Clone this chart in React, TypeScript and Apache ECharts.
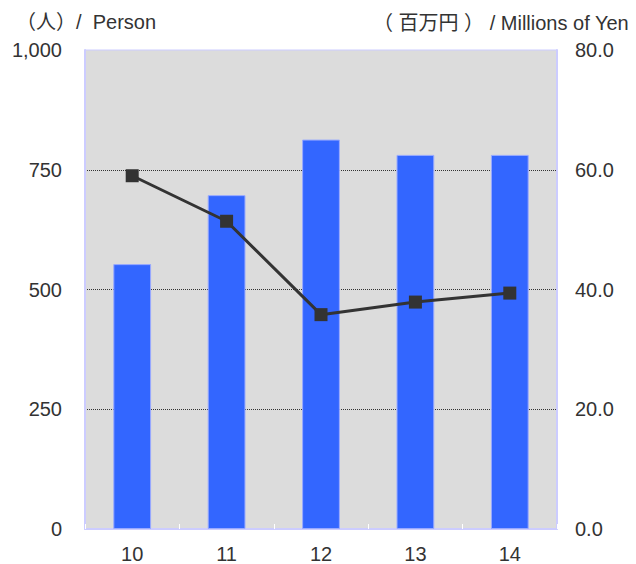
import React, { useEffect, useRef } from "react";
import * as echarts from "echarts";

const categories = ["10", "11", "12", "13", "14"];
const persons = [553, 697, 813, 781, 781];
const millionsYen = [59.0, 51.4, 35.8, 37.9, 39.4];
const leftTitle = "（人）/  Person";
const rightTitle = "（ 百万円 ） / Millions of Yen";

export default function App() {
  const ref = useRef<HTMLDivElement>(null);
  useEffect(() => {
    if (!ref.current) return;
    const chart = echarts.init(ref.current, null, { renderer: "svg" });
    const font = "'Liberation Sans', Arial, 'Noto Sans CJK JP', sans-serif";
    const fs = 20;
    chart.setOption({
      animation: false,
      backgroundColor: "#ffffff",
      textStyle: { fontFamily: font },
      graphic: [
        { type: "text", left: 16, top: 12, style: { text: leftTitle, fontSize: fs, fill: "#333", fontFamily: font } },
        { type: "text", right: 7, top: 13, style: { text: rightTitle, fontSize: fs, fill: "#333", fontFamily: font } },
      ],
      grid: {
        left: 85,
        right: 79,
        top: 50,
        bottom: 34,
        show: true,
        backgroundColor: "#dcdcdc",
        borderColor: "#ccccff",
        borderWidth: 1,
      },
      xAxis: {
        type: "category",
        data: categories,
        axisLine: { show: true, lineStyle: { color: "#ccccff", width: 2 } },
        axisTick: { show: true, inside: true, length: 5, lineStyle: { color: "#ffffff" } },
        axisLabel: { color: "#333", fontSize: fs, margin: 15, fontFamily: font },
      },
      yAxis: [
        {
          type: "value",
          min: 0,
          max: 1000,
          interval: 250,
          axisLine: { show: true, lineStyle: { color: "#ccccff", width: 2 } },
          axisTick: { show: false },
          axisLabel: {
            color: "#333",
            fontSize: fs,
            margin: 23,
            fontFamily: font,
            formatter: (v: number) => v.toLocaleString("en-US"),
          },
          splitLine: {
            show: true,
            lineStyle: { type: "dotted", width: 1, color: ["transparent", "#333", "#333", "#333", "transparent"] },
          },
        },
        {
          type: "value",
          min: 0,
          max: 80,
          interval: 20,
          axisLine: { show: true, lineStyle: { color: "#ccccff", width: 2 } },
          axisTick: { show: false },
          axisLabel: {
            color: "#333",
            fontSize: fs,
            margin: 18,
            fontFamily: font,
            formatter: (v: number) => v.toFixed(1),
          },
          splitLine: { show: false },
        },
      ],
      series: [
        {
          type: "bar",
          data: persons,
          yAxisIndex: 0,
          barWidth: "40%",
          itemStyle: { color: "#3366ff", borderColor: "#99aaff", borderWidth: 1 },
        },
        {
          type: "line",
          data: millionsYen,
          yAxisIndex: 1,
          symbol: "rect",
          symbolSize: 13,
          lineStyle: { color: "#333333", width: 3 },
          itemStyle: { color: "#333333" },
        },
      ],
    });
    return () => chart.dispose();
  }, []);
  return <div ref={ref} style={{ position: "fixed", left: 0, top: 0, width: 636, height: 564 }} />;
}
